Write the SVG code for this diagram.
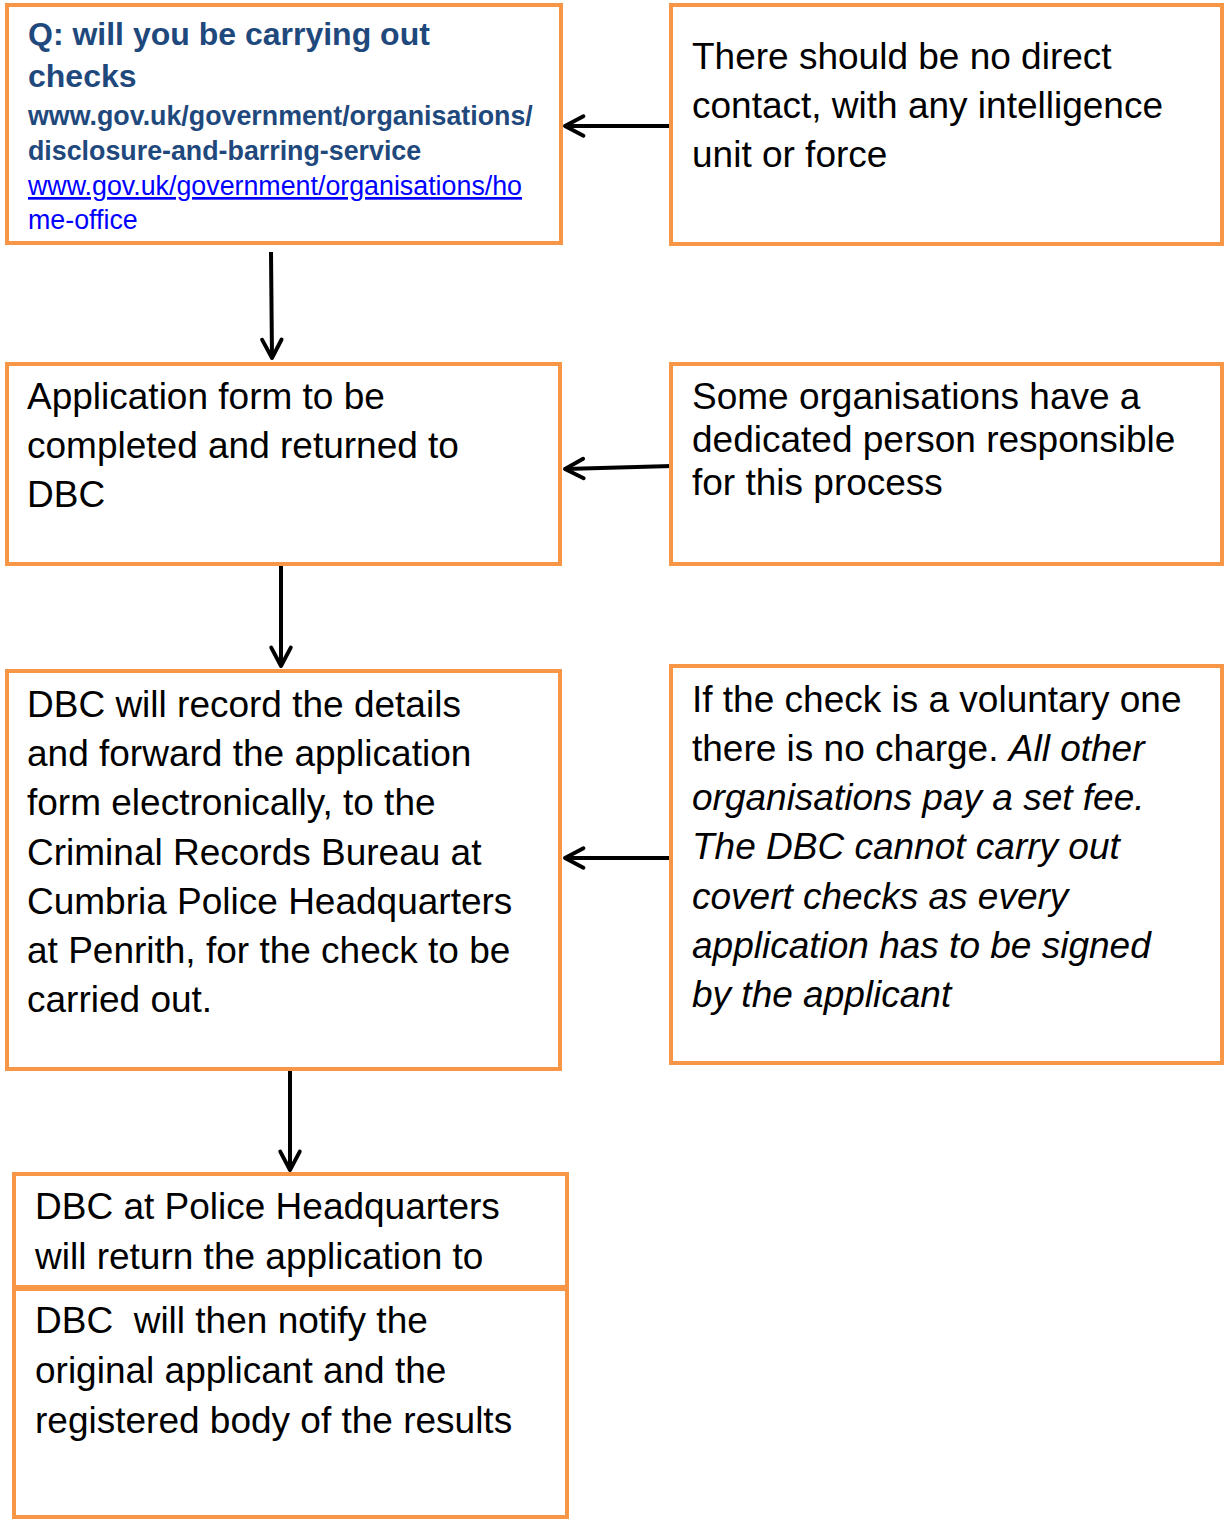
<svg xmlns="http://www.w3.org/2000/svg" width="1224" height="1519" viewBox="0 0 1224 1519">
<defs>
<style>
.box{fill:#fff;stroke:#F79646;stroke-width:4}
.t{font-family:"Liberation Sans",Arial,sans-serif;font-size:37px;fill:#000}
.it{font-style:italic}
.h{font-family:"Liberation Sans",Arial,sans-serif;font-weight:bold;fill:#1F497D}
.lk{font-family:"Liberation Sans",Arial,sans-serif;font-size:26.8px;fill:#0000FF}
.c{stroke:#000;stroke-width:4;fill:none}
</style>
<marker id="ah" viewBox="0 0 12 12" refX="10" refY="6" markerWidth="6.5" markerHeight="6.5" markerUnits="strokeWidth" orient="auto">
<path d="M1.5,1.5 L10,6 L1.5,10.5" fill="none" stroke="#000" stroke-width="1.8" stroke-linecap="round" stroke-linejoin="round"/>
</marker>
</defs>
<rect width="1224" height="1519" fill="#fff"/>
<g id="connectors">
<line class="c" x1="673" y1="126" x2="565" y2="126" marker-end="url(#ah)"/>
<line class="c" x1="271" y1="252" x2="272" y2="358" marker-end="url(#ah)"/>
<line class="c" x1="672" y1="466" x2="565" y2="469" marker-end="url(#ah)"/>
<line class="c" x1="281" y1="565" x2="281" y2="666" marker-end="url(#ah)"/>
<line class="c" x1="674" y1="858" x2="565" y2="858" marker-end="url(#ah)"/>
<line class="c" x1="290" y1="1069" x2="290" y2="1170" marker-end="url(#ah)"/>
</g>
<g id="n1">
<rect class="box" x="7" y="5" width="554" height="238"/>
<text class="h" font-size="32" x="28" y="45">Q: will you be carrying out</text>
<text class="h" font-size="32" x="28" y="87">checks</text>
<text class="h" font-size="26.8" x="28" y="125">www.gov.uk/government/organisations/</text>
<text class="h" font-size="26.8" x="28" y="160">disclosure-and-barring-service</text>
<text class="lk" x="28" y="195" text-decoration="underline">www.gov.uk/government/organisations/ho</text>
<text class="lk" x="28" y="229">me-office</text>
</g>
<g id="n2">
<rect class="box" x="671" y="5" width="551" height="239"/>
<text class="t" x="692" y="69">There should be no direct</text>
<text class="t" x="692" y="118">contact, with any intelligence</text>
<text class="t" x="692" y="167">unit or force</text>
</g>
<g id="n3">
<rect class="box" x="7" y="364" width="553" height="200"/>
<text class="t" x="27" y="409">Application form to be</text>
<text class="t" x="27" y="458">completed and returned to</text>
<text class="t" x="27" y="507">DBC</text>
</g>
<g id="n4">
<rect class="box" x="671" y="364" width="551" height="200"/>
<text class="t" x="692" y="409">Some organisations have a</text>
<text class="t" x="692" y="452">dedicated person responsible</text>
<text class="t" x="692" y="495">for this process</text>
</g>
<g id="n5">
<rect class="box" x="7" y="671" width="553" height="398"/>
<text class="t" x="27" y="717">DBC will record the details</text>
<text class="t" x="27" y="766">and forward the application</text>
<text class="t" x="27" y="815">form electronically, to the</text>
<text class="t" x="27" y="865">Criminal Records Bureau at</text>
<text class="t" x="27" y="914">Cumbria Police Headquarters</text>
<text class="t" x="27" y="963">at Penrith, for the check to be</text>
<text class="t" x="27" y="1012">carried out.</text>
</g>
<g id="n6">
<rect class="box" x="671" y="666" width="551" height="397"/>
<text class="t" x="692" y="712">If the check is a voluntary one</text>
<text class="t" x="692" y="761">there is no charge. <tspan class="it">All other</tspan></text>
<text class="t it" x="692" y="810">organisations pay a set fee.</text>
<text class="t it" x="692" y="859">The DBC cannot carry out</text>
<text class="t it" x="692" y="909">covert checks as every</text>
<text class="t it" x="692" y="958">application has to be signed</text>
<text class="t it" x="692" y="1007">by the applicant</text>
</g>
<g id="n7">
<rect class="box" x="14" y="1174" width="553" height="113"/>
<text class="t" x="35" y="1219">DBC at Police Headquarters</text>
<text class="t" x="35" y="1269">will return the application to</text>
</g>
<g id="n8">
<rect class="box" x="14" y="1289" width="553" height="228"/>
<text class="t" x="35" y="1333" xml:space="preserve">DBC  will then notify the</text>
<text class="t" x="35" y="1383">original applicant and the</text>
<text class="t" x="35" y="1433">registered body of the results</text>
</g>
</svg>
